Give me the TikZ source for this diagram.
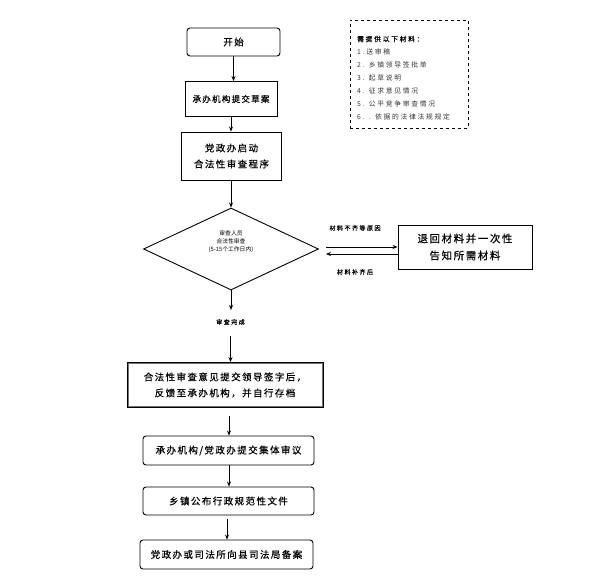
\documentclass[tikz,border=0pt]{standalone}
\usepackage{fontspec}
\setmainfont{Noto Sans CJK SC}[AutoFakeBold=1.2]
\newfontfamily\cjksp{Noto Sans CJK SC}[LetterSpace=15,AutoFakeBold=0.5]
\newfontfamily\cjkspl{Noto Sans CJK SC}[LetterSpace=25]
\newfontfamily\cjkspw{Noto Sans CJK SC}[LetterSpace=25,AutoFakeBold=0.4]
\usetikzlibrary{arrows.meta,shapes.geometric}
\tikzset{
  box/.style={draw,line width=0.9pt,align=center,inner sep=0pt,font=\cjksp\bfseries\fontsize{9.5}{16}\selectfont},
  rbox/.style={box,rounded corners=3pt},
  arr/.style={-{Stealth[length=5pt,width=4pt]},line width=0.7pt},
  lbl/.style={font=\cjkspw\bfseries\fontsize{6}{8}\selectfont,inner sep=0pt},
  mat/.style={font=\cjkspl\fontsize{6.8}{8}\selectfont,text=black!80,inner sep=0pt,anchor=west},
}
\begin{document}
\begin{tikzpicture}[x=1pt,y=-1pt]
\useasboundingbox (0,0) rectangle (590,576);
\node[rbox,minimum width=93pt,minimum height=28pt] (start) at (233.5,42) {开始};
\node[box,minimum width=92pt,minimum height=35pt,font=\cjksp\bfseries\fontsize{8.5}{14}\selectfont] (b2) at (231,99) {承办机构提交草案};
\node[box,minimum width=100pt,minimum height=48pt] (b3) at (231.5,156) {党政办启动\\合法性审查程序};
\node[draw,diamond,line width=0.9pt,aspect=2.13,minimum width=175pt,minimum height=82pt,inner sep=0pt] (dia) at (231,249) {};
\node[align=center,inner sep=0pt,font=\fontsize{5.8}{8}\selectfont] (dt) at (231,242) {审查人员\\合法性审查\\(5-15个工作日内)};
\node[box,minimum width=134pt,minimum height=44pt,font=\cjksp\bfseries\fontsize{10.5}{17}\selectfont] (rb) at (465,247) {退回材料并一次性\\告知所需材料};
\node[lbl] (l1) at (355,228) {材料不齐等原因};
\node[lbl] (l2) at (355,272) {材料补齐后};
\coordinate (d1) at (231,310);
\node[lbl] (l3) at (230.5,322) {审查完成};
\coordinate (d2) at (230.5,336);
\node[box,line width=1pt,minimum width=196pt,minimum height=45pt] (b4) at (225,385) {合法性审查意见提交领导签字后，\\反馈至承办机构，并自行存档};
\draw[black!55,line width=0.5pt] ([shift={(1.6,1.6)}]b4.north west) rectangle ([shift={(-1.6,-1.6)}]b4.south east);
\node[rbox,minimum width=171pt,minimum height=29pt] (b5) at (228.5,450.5) {承办机构/党政办提交集体审议};
\node[rbox,minimum width=171pt,minimum height=28pt] (b6) at (228.5,501) {乡镇公布行政规范性文件};
\node[rbox,minimum width=173pt,minimum height=29pt] (b7) at (226.5,554.5) {党政办或司法所向县司法局备案};
% connectors
\draw[arr] (start.south) -- (b2.north -| start.south);
\draw[arr] (b2.south) -- (b3.north -| b2.south);
\draw[arr] (b3.south -| dia.north) -- (dia.north);
\draw[arr] (dia.south) -- (d1);
\draw[arr] (d2) -- (b4.north -| d2);
\draw[arr,shorten <=8pt] ([xshift=4pt]b4.south) -- ([xshift=0.5pt]b5.north);
\draw[arr] ([xshift=0.5pt]b5.south) -- ([xshift=0.5pt]b6.north);
\draw[arr,shorten <=4pt] ([xshift=-1.5pt]b6.south) -- ([xshift=0.5pt]b7.north);
\draw[arr] ([shift={(7,-2)}]dia.east) -- (rb.west);
\draw[arr] ([shift={(0,7)}]rb.west) -- ([shift={(7,5)}]dia.east);
% materials
\node[draw,dashed,line width=0.8pt,minimum width=118pt,minimum height=108pt,inner sep=0pt] (mb) at (409,74) {};
\node[mat,text=black,font=\cjkspw\bfseries\fontsize{6.8}{8}\selectfont] (m0) at (357,39) {需提供以下材料：};
\node[mat] (m1) at (357,52) {1.送审稿};
\node[mat] (m2) at (357,65) {2. 乡镇领导签批单};
\node[mat] (m3) at (357,78) {3. 起草说明};
\node[mat] (m4) at (357,91) {4. 征求意见情况};
\node[mat] (m5) at (357,104) {5. 公平竞争审查情况};
\node[mat] (m6) at (357,117) {6. . 依据的法律法规规定};
\end{tikzpicture}
\end{document}
